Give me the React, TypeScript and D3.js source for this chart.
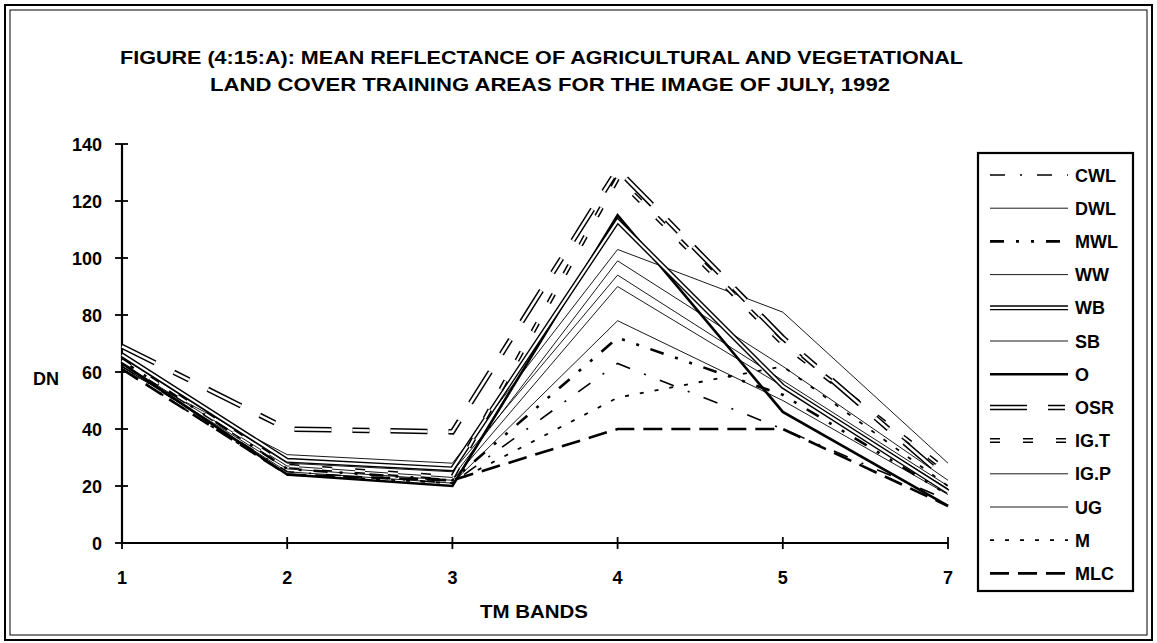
import React from "react";
import * as d3 from "d3";

// TM bands on the x axis
const bands = ["1", "2", "3", "4", "5", "7"];
const yTicks = [0, 20, 40, 60, 80, 100, 120, 140];

// mean DN per band
const CWL = [62, 25, 21, 63, 40, 15];
const DWL = [63, 27, 23, 99, 62, 22];
const MWL = [64, 26, 22, 72, 52, 17];
const WW = [65, 28, 25, 94, 57, 20];
const WB = [66, 29, 26, 113, 55, 18];
const SB = [61, 31, 28, 103, 81, 28];
const O = [63, 24, 20, 115, 46, 13];
const OSR = [69, 40, 39, 131, 72, 22];
const IGT = [64, 27, 23, 128, 70, 25];
const IGP = [62, 26, 22, 90, 55, 19];
const UG = [62, 25, 21, 78, 50, 17];
const M = [61, 24, 21, 51, 62, 20];
const MLC = [61, 24, 22, 40, 40, 13];

type Style = { w: number; dash?: string; inner?: number };

const series: { name: string; values: number[]; style: Style }[] = [
  { name: "CWL", values: CWL, style: { w: 1.6, dash: "15,15,2,15" } },
  { name: "DWL", values: DWL, style: { w: 0.9 } },
  { name: "MWL", values: MWL, style: { w: 2.6, dash: "14,12,3,12,3,12" } },
  { name: "WW", values: WW, style: { w: 0.9 } },
  { name: "WB", values: WB, style: { w: 5, inner: 2.2 } },
  { name: "SB", values: SB, style: { w: 0.9 } },
  { name: "O", values: O, style: { w: 2.6 } },
  { name: "OSR", values: OSR, style: { w: 5.5, inner: 2.5, dash: "37,21,17,21" } },
  { name: "IG.T", values: IGT, style: { w: 5, inner: 2, dash: "10,23" } },
  { name: "IG.P", values: IGP, style: { w: 0.9 } },
  { name: "UG", values: UG, style: { w: 0.9 } },
  { name: "M", values: M, style: { w: 1.8, dash: "4,11" } },
  { name: "MLC", values: MLC, style: { w: 2.6, dash: "19,9" } },
];

const W = 1157;
const H = 643;
const font = "'Liberation Sans', Arial, sans-serif";

const StyledPath = ({ d, style }: { d: string; style: Style }) => (
  <g>
    <path d={d} fill="none" stroke="#000" strokeWidth={style.w} strokeDasharray={style.dash} />
    {style.inner && (
      <path d={d} fill="none" stroke="#fff" strokeWidth={style.inner} strokeDasharray={style.dash} />
    )}
  </g>
);

const App = () => {
  const x = d3.scalePoint<string>().domain(bands).range([122, 948]);
  const y = d3.scaleLinear().domain([0, 140]).range([543, 144]);

  const line = d3
    .line<number>()
    .x((_, i) => x(bands[i])!)
    .y((d) => y(d));

  // thin lines first, heavy ones on top
  const order = [...series].sort((a, b) => a.style.w - b.style.w);

  const legendY = (i: number) => 175 + i * 33.2;

  return (
    <div style={{ position: "absolute", left: 0, top: 0 }}>
      <svg width={W} height={H} viewBox={`0 0 ${W} ${H}`} style={{ display: "block", background: "#fff" }}>
        {/* double frame */}
        <rect x={5} y={5} width={W - 10} height={H - 8} fill="none" stroke="#000" strokeWidth={2} />
        <rect x={10} y={10} width={W - 20} height={H - 18} fill="none" stroke="#000" strokeWidth={1} />

        <g fontFamily={font} fontWeight="bold" fill="#000">
          <text x={120} y={64} fontSize={18} textLength={843} lengthAdjust="spacingAndGlyphs">
            FIGURE (4:15:A): MEAN REFLECTANCE OF AGRICULTURAL AND VEGETATIONAL
          </text>
          <text x={210} y={91} fontSize={18} textLength={680} lengthAdjust="spacingAndGlyphs">
            LAND COVER TRAINING AREAS FOR THE IMAGE OF JULY, 1992
          </text>
          <text x={480} y={618} fontSize={18} textLength={108} lengthAdjust="spacingAndGlyphs">
            TM BANDS
          </text>
          <text x={46} y={385} fontSize={18} textAnchor="middle">DN</text>
        </g>

        {/* y axis */}
        <line x1={122} x2={122} y1={y(140)} y2={y(0)} stroke="#000" strokeWidth={2.2} />
        {yTicks.map((t) => (
          <g key={t}>
            <line x1={115} x2={128} y1={y(t)} y2={y(t)} stroke="#000" strokeWidth={1.8} />
            <text x={102} y={y(t) + 6.5} textAnchor="end" fontFamily={font} fontWeight="bold" fontSize={18}>
              {t}
            </text>
          </g>
        ))}

        {/* x axis */}
        <line x1={x(bands[0])} x2={x(bands[bands.length - 1])} y1={y(0)} y2={y(0)} stroke="#000" strokeWidth={2.2} />
        {bands.map((b) => (
          <g key={b}>
            <line x1={x(b)} x2={x(b)} y1={y(0) - 6} y2={y(0) + 6} stroke="#000" strokeWidth={1.8} />
            <text x={x(b)} y={y(0) + 41} textAnchor="middle" fontFamily={font} fontWeight="bold" fontSize={18}>
              {b}
            </text>
          </g>
        ))}

        {/* series */}
        {order.map((s) => (
          <StyledPath key={s.name} d={line(s.values)!} style={s.style} />
        ))}

        {/* legend */}
        <rect x={978} y={153} width={155} height={438} fill="#fff" stroke="#000" strokeWidth={2.2} />
        {series.map((s, i) => (
          <g key={s.name}>
            <StyledPath d={`M990,${legendY(i)}H1068`} style={s.style} />
            <text x={1075} y={legendY(i) + 6.5} fontFamily={font} fontWeight="bold" fontSize={18}>
              {s.name}
            </text>
          </g>
        ))}
      </svg>
    </div>
  );
};

export default App;
